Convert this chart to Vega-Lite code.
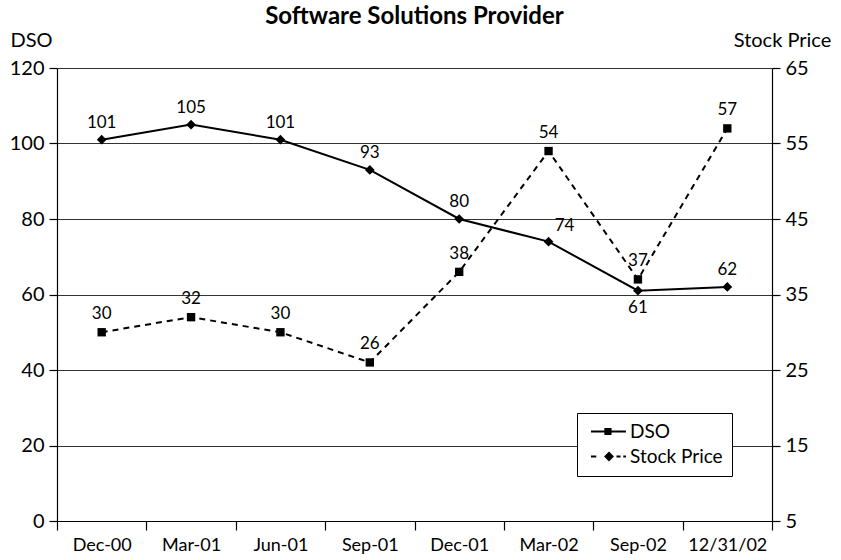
{
  "$schema": "https://vega.github.io/schema/vega-lite/v6.json",
  "autosize": {"type": "none"},
  "width": 715,
  "height": 453,
  "padding": {"left": 57, "top": 68, "right": 69, "bottom": 39},
  "background": "white",
  "title": {"text": "Software Solutions Provider", "fontSize": 24, "fontWeight": "bold", "font": "Lato", "color": "black", "anchor": "middle", "offset": 1},
  "config": {
    "view": {"stroke": null},
    "font": "Lato",
    "axis": {"labelFont": "Lato", "titleFont": "Lato", "labelColor": "black", "titleColor": "black", "domainColor": "black", "tickColor": "black"},
    "legend": {"labelFont": "Lato"}
  },
  "data": {"values": [
    {"date": "Dec-00", "DSO": 101, "Stock Price": 30},
    {"date": "Mar-01", "DSO": 105, "Stock Price": 32},
    {"date": "Jun-01", "DSO": 101, "Stock Price": 30},
    {"date": "Sep-01", "DSO": 93, "Stock Price": 26},
    {"date": "Dec-01", "DSO": 80, "Stock Price": 38},
    {"date": "Mar-02", "DSO": 74, "Stock Price": 54},
    {"date": "Sep-02", "DSO": 61, "Stock Price": 37},
    {"date": "12/31/02", "DSO": 62, "Stock Price": 57}
  ]},
  "encoding": {
    "x": {"field": "date", "type": "ordinal", "sort": null,
      "scale": {"type": "band", "paddingInner": 0, "paddingOuter": 0},
      "axis": {"title": null, "labelAngle": 0, "labelFontSize": 18, "tickBand": "extent", "tickSize": 9, "labelPadding": 6, "domainWidth": 1.2, "tickWidth": 1.2, "grid": false}}
  },
  "layer": [
    {
      "encoding": {
        "y": {"field": "DSO", "type": "quantitative",
          "scale": {"domain": [0, 120], "nice": false, "zero": false},
          "axis": {"orient": "left", "values": [0, 20, 40, 60, 80, 100, 120], "labelFontSize": 20, "tickSize": 8, "labelPadding": 5, "domainWidth": 1.2, "tickWidth": 1.2,
            "grid": true, "gridColor": "#333333", "gridWidth": 1.1, "gridOpacity": 1,
            "title": "DSO", "titleAngle": 0, "titleFontSize": 20, "titleFontWeight": "normal", "titleX": -26, "titleY": -28, "titleAlign": "center", "titleBaseline": "middle"}}
      },
      "layer": [
        {"mark": {"type": "line", "color": "black", "strokeWidth": 2}},
        {"mark": {"type": "point", "shape": "diamond", "filled": true, "color": "black", "size": 95, "opacity": 1}},
        {"transform": [{"filter": "datum.date != 'Mar-02' && datum.date != 'Sep-02'"}],
         "mark": {"type": "text", "fontSize": 17, "color": "black", "dy": -17, "font": "Lato"},
         "encoding": {"text": {"field": "DSO"}}},
        {"transform": [{"filter": "datum.date == 'Mar-02'"}],
         "mark": {"type": "text", "fontSize": 17, "color": "black", "dy": -16, "dx": 16, "font": "Lato"},
         "encoding": {"text": {"field": "DSO"}}},
        {"transform": [{"filter": "datum.date == 'Sep-02'"}],
         "mark": {"type": "text", "fontSize": 17, "color": "black", "dy": 17, "font": "Lato"},
         "encoding": {"text": {"field": "DSO"}}}
      ]
    },
    {
      "encoding": {
        "y": {"field": "Stock Price", "type": "quantitative",
          "scale": {"domain": [5, 65], "nice": false, "zero": false},
          "axis": {"orient": "right", "values": [5, 15, 25, 35, 45, 55, 65], "labelFontSize": 20, "tickSize": 8, "labelPadding": 5, "domainWidth": 1.2, "tickWidth": 1.2, "grid": false,
            "title": "Stock Price", "titleAngle": 0, "titleFontSize": 20, "titleFontWeight": "normal", "titleX": 10, "titleY": -28, "titleAlign": "center", "titleBaseline": "middle"}}
      },
      "layer": [
        {"mark": {"type": "line", "color": "black", "strokeWidth": 2, "strokeDash": [6, 5]}},
        {"mark": {"type": "point", "shape": "square", "filled": true, "color": "black", "size": 70, "opacity": 1}},
        {"mark": {"type": "text", "fontSize": 17, "color": "black", "dy": -18, "font": "Lato"},
         "encoding": {"text": {"field": "Stock Price"}}}
      ]
    },
    {
      "transform": [{"fold": ["DSO", "Stock Price"], "as": ["series", "v"]}, {"filter": "false"}],
      "mark": {"type": "point", "filled": true, "color": "black", "opacity": 1},
      "encoding": {
        "shape": {"field": "series", "type": "nominal",
          "scale": {"domain": ["DSO", "Stock Price"], "range": ["M-1,-0.22H6.77V0.22H-1ZM1.97,-0.8H3.57V0.8H1.97Z", "M-1,-0.22H0.17V0.22H-1ZM4.67,-0.22H5.57V0.22H4.67ZM6.17,-0.22H6.77V0.22H6.17ZM3,-1.1L4.1,0L3,1.1L1.9,0Z"]},
          "legend": {"title": null, "orient": "none", "legendX": 520, "legendY": 345, "strokeColor": "black", "fillColor": "white", "padding": 9,
            "labelFontSize": 19, "labelColor": "black", "symbolSize": 81, "symbolOpacity": 1, "rowPadding": 5, "labelOffset": 25,
            "encode": {"symbols": {"fill": {"value": "black"}, "opacity": {"value": 1}}}}}
      }
    }
  ],
  "resolve": {"scale": {"y": "independent"}}
}
